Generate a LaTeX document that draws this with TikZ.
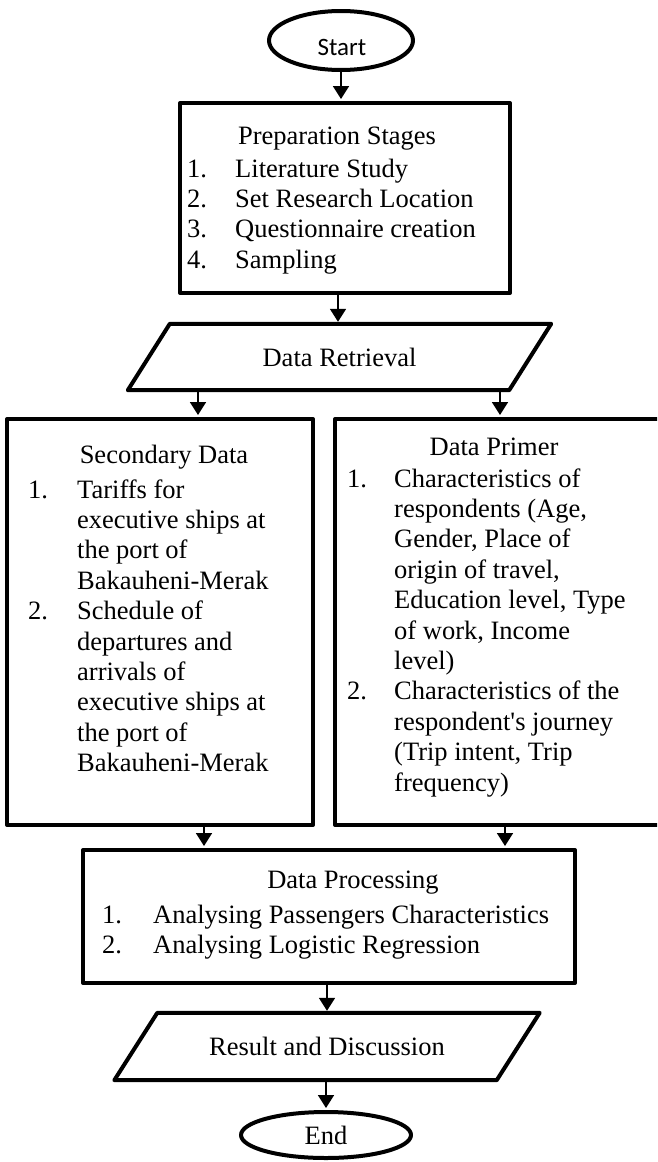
\documentclass[tikz,border=0pt]{standalone}
\usepackage{fontspec}
\setmainfont{Liberation Serif}
\newfontfamily\startfont{Carlito}
\usetikzlibrary{arrows.meta,shapes.geometric}
\begin{document}
\begin{tikzpicture}[x=1pt,y=-1pt,
  shapeline/.style={line width=4pt, line join=round},
  box/.style={shapeline, draw, rectangle, inner sep=0pt},
  oval/.style={shapeline, draw, ellipse, inner sep=0pt},
  slot/.style={rectangle, inner sep=0pt},
  arr/.style={line width=1.8pt, -{Triangle[width=16pt,length=13pt]}, shorten >=2pt},
  txt/.style={font=\fontsize{26.5}{30.4}\selectfont, inner sep=0pt, anchor=base},
  lst/.style={font=\fontsize{26.5}{30.4}\selectfont, inner sep=0pt, anchor=base west, align=left},
]
\useasboundingbox (0,0) rectangle (657,1162);

% Start
\node[oval, minimum width=144pt, minimum height=59pt] (start) at (341,40.5) {};
\node[inner sep=0pt, anchor=base, font=\startfont\fontsize{25}{30}\selectfont] (starttext) at (342,55) {Start};

% Preparation
\node[box, minimum width=330pt, minimum height=190pt] (prep) at (345,198) {};
\node[txt] (preptitle) at (337,144) {Preparation Stages};
\node[lst] (preplist) at (187,177) {\begin{tabular}[t]{@{}p{48pt}@{}l@{}}
1.&Literature Study\\
2.&Set Research Location\\
3.&Questionnaire creation\\
4.&Sampling
\end{tabular}};

% Data Retrieval
\node[slot, minimum width=381pt, minimum height=66pt, font=\fontsize{26.5}{30.4}\selectfont] (ret) at (339.5,357) {Data Retrieval};
\draw[shapeline] ([xshift=21pt]ret.north west) -- ([xshift=21pt]ret.north east)
  -- ([xshift=-21pt]ret.south east) -- ([xshift=-21pt]ret.south west) -- cycle;

% Secondary data
\node[box, minimum width=306pt, minimum height=406pt] (sec) at (160,622) {};
\node[txt] (sectitle) at (164,463) {Secondary Data};
\node[lst] (seclist) at (28,498) {\begin{tabular}[t]{@{}p{49pt}@{}l@{}}
1.&Tariffs for\\
&executive ships at\\
&the port of\\
&Bakauheni-Merak\\
2.&Schedule of\\
&departures and\\
&arrivals of\\
&executive ships at\\
&the port of\\
&Bakauheni-Merak
\end{tabular}};

% Data primer (runs past the right edge)
\begin{scope}
\clip (0,0) rectangle (657,1162);
\node[box, minimum width=330pt, minimum height=406pt] (prim) at (500,622) {};
\end{scope}
\node[txt] (primtitle) at (494,455) {Data Primer};
\node[lst] (primlist) at (347,487) {\begin{tabular}[t]{@{}p{47pt}@{}l@{}}
1.&Characteristics of\\
&respondents (Age,\\
&Gender, Place of\\
&origin of travel,\\
&Education level, Type\\
&of work, Income\\
&level)\\
2.&Characteristics of the\\
&respondent\textquotesingle s journey\\
&(Trip intent, Trip\\
&frequency)
\end{tabular}};

% Data processing
\node[box, minimum width=492pt, minimum height=133pt] (proc) at (329,916.5) {};
\node[txt] (proctitle) at (353,888) {Data Processing};
\node[lst] (proclist) at (102,923) {\begin{tabular}[t]{@{}p{51pt}@{}l@{}}
1.&Analysing Passengers Characteristics\\
2.&Analysing Logistic Regression
\end{tabular}};

% Result and discussion
\node[slot, minimum width=382pt, minimum height=67pt, font=\fontsize{26.5}{30.4}\selectfont] (res) at (327,1046.5) {Result and Discussion};
\draw[shapeline] ([xshift=21.5pt]res.north west) -- ([xshift=21.5pt]res.north east)
  -- ([xshift=-21.5pt]res.south east) -- ([xshift=-21.5pt]res.south west) -- cycle;

% End
\node[oval, minimum width=170pt, minimum height=46pt, font=\fontsize{26.5}{30.4}\selectfont] (end) at (326,1135) {End};

% Connectors
\draw[arr] (start.south) -- (start.south |- prep.north);
\draw[arr] ([xshift=-7pt]prep.south) -- ([xshift=-7pt]prep.south |- ret.north);
\draw[arr] ([xshift=38pt]sec.north |- ret.south) -- ([xshift=38pt]sec.north);
\draw[arr] (prim.north |- ret.south) -- (prim.north);
\draw[arr] ([xshift=44pt]sec.south) -- ([xshift=44pt]sec.south |- proc.north);
\draw[arr] ([xshift=5pt]prim.south) -- ([xshift=5pt]prim.south |- proc.north);
\draw[arr] (res.north |- proc.south) -- (res.north);
\draw[arr] (end.north |- res.south) -- (end.north);
\end{tikzpicture}
\end{document}
